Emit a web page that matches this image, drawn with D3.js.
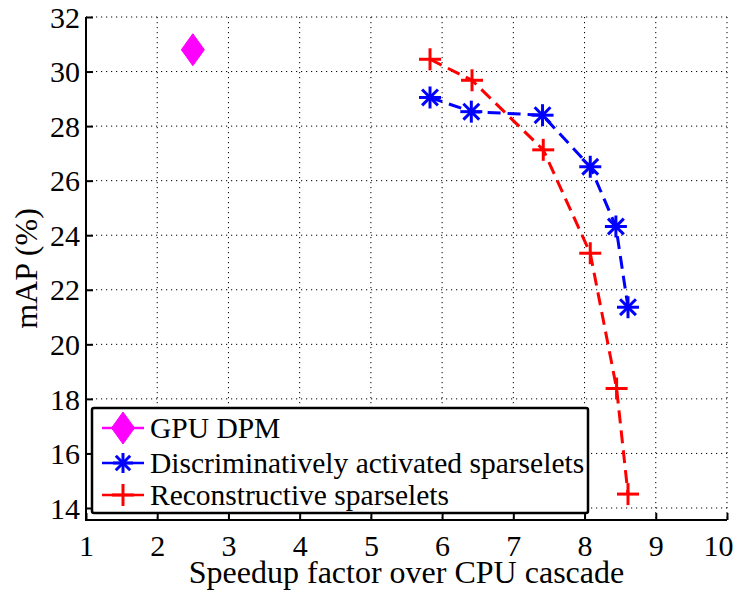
<!DOCTYPE html>
<html><head><meta charset="utf-8">
<script src="https://cdn.jsdelivr.net/npm/d3@7"></script>
<style>
html,body{margin:0;padding:0;background:#fff;}
svg{display:block;}
</style></head><body>
<svg id="c" width="746" height="591"></svg>
<script>
// Data
const gpuX = [2.5];
const gpuY = [30.8];
const discX = [5.83, 6.41, 7.41, 8.08, 8.44, 8.61];
const discY = [29.05, 28.53, 28.40, 26.51, 24.32, 21.36];
const recX = [5.83, 6.42, 7.42, 8.08, 8.45, 8.61];
const recY = [30.45, 29.68, 27.13, 23.34, 18.38, 14.51];
const xTicks = [1,2,3,4,5,6,7,8,9,10];
const yTicks = [14,16,18,20,22,24,26,28,30,32];
const legendLabels = ["GPU DPM", "Discriminatively activated sparselets", "Reconstructive sparselets"];
const xLabel = "Speedup factor over CPU cascade";
const yLabel = "mAP (%)";

const FONT = '"Liberation Serif"';
const svg = d3.select("#c");
const L = 86, R = 727, T = 17, B = 520;
const x = d3.scaleLinear().domain([1,10]).range([L,R]);
const y = d3.scaleLinear().domain([13.56,32]).range([B,T]);

// grid
const g = svg.append("g");
g.selectAll(".vg").data(xTicks.filter(d=>d>1)).enter().append("line")
  .attr("x1",d=>x(d)).attr("x2",d=>x(d)).attr("y1",T).attr("y2",B)
  .attr("stroke","#000").attr("stroke-width",1).attr("stroke-dasharray","1.2,3.8");
g.selectAll(".hg").data(yTicks).enter().append("line")
  .attr("x1",L).attr("x2",R).attr("y1",d=>y(d)).attr("y2",d=>y(d))
  .attr("stroke","#000").attr("stroke-width",1).attr("stroke-dasharray","1.2,3.8");

// axes
const xAxis = d3.axisBottom(x).tickValues(xTicks).tickFormat(d3.format("d")).tickSizeInner(-7).tickSizeOuter(0);
const yAxis = d3.axisLeft(y).tickValues(yTicks).tickFormat(d3.format("d")).tickSizeInner(-7).tickSizeOuter(0);
const gx = svg.append("g").attr("transform",`translate(0,${B})`).call(xAxis);
const gy = svg.append("g").attr("transform",`translate(${L},0)`).call(yAxis);
[gx,gy].forEach(a=>{
  a.attr("font-family",null).attr("font-size",null);
  a.select(".domain").attr("stroke","#000").attr("stroke-width",2);
  a.selectAll(".tick line").attr("stroke","#000").attr("stroke-width",2);
  a.selectAll(".tick text").style("font-family",FONT).style("font-size","30px").attr("fill","#000");
});
gx.selectAll(".tick text").attr("dy",null).attr("y",36)
  .attr("dx",d=>d===xTicks[xTicks.length-1]?-9:0);
gy.selectAll(".tick text").attr("x",-6).attr("dy","0.34em");
gx.select(".domain").attr("d",`M${L-1},0H${R}`);
gy.select(".domain").attr("d",`M0,${B+1}V${T}`);

// labels
svg.append("text").attr("x",(L+R)/2).attr("y",583).attr("text-anchor","middle")
  .style("font-family",FONT).style("font-size","32px").attr("fill","#000").text(xLabel);
svg.append("text").attr("transform",`translate(37,${(T+B)/2}) rotate(-90)`).attr("text-anchor","middle")
  .style("font-family",FONT).style("font-size","32px").attr("fill","#000").text(yLabel);

// marker drawers
function star(sel, cx, cy, r, color){
  const gg = sel.append("g").attr("stroke",color).attr("stroke-width",3).attr("fill","none");
  const d = r*0.72;
  gg.append("line").attr("x1",cx-r).attr("x2",cx+r).attr("y1",cy).attr("y2",cy);
  gg.append("line").attr("x1",cx).attr("x2",cx).attr("y1",cy-r).attr("y2",cy+r);
  gg.append("line").attr("x1",cx-d).attr("x2",cx+d).attr("y1",cy-d).attr("y2",cy+d);
  gg.append("line").attr("x1",cx-d).attr("x2",cx+d).attr("y1",cy+d).attr("y2",cy-d);
}
function plus(sel, cx, cy, r, color){
  const gg = sel.append("g").attr("stroke",color).attr("stroke-width",3).attr("fill","none");
  gg.append("line").attr("x1",cx-r).attr("x2",cx+r).attr("y1",cy).attr("y2",cy);
  gg.append("line").attr("x1",cx).attr("x2",cx).attr("y1",cy-r).attr("y2",cy+r);
}
function diamond(sel, cx, cy, w, h, color){
  sel.append("path").attr("d",`M${cx},${cy-h}L${cx+w},${cy}L${cx},${cy+h}L${cx-w},${cy}Z`).attr("fill",color).attr("stroke",color).attr("stroke-width",1);
}

const line = d3.line().x(d=>x(d[0])).y(d=>y(d[1]));
const discPts = discX.map((v,i)=>[v,discY[i]]);
const recPts = recX.map((v,i)=>[v,recY[i]]);
svg.append("path").attr("d",line(discPts)).attr("fill","none").attr("stroke","#0000ff").attr("stroke-width",3).attr("stroke-dasharray","13,7");
svg.append("path").attr("d",line(recPts)).attr("fill","none").attr("stroke","#ff0000").attr("stroke-width",3).attr("stroke-dasharray","13,7");
discPts.forEach(p=>star(svg,x(p[0]),y(p[1]),11,"#0000ff"));
recPts.forEach(p=>plus(svg,x(p[0]),y(p[1]),11,"#ff0000"));
gpuX.forEach((v,i)=>diamond(svg,x(v),y(gpuY[i]),11.5,16,"#ff00ff"));

// legend
const lg = svg.append("g");
lg.append("rect").attr("x",92).attr("y",408).attr("width",496).attr("height",105).attr("rx",2)
  .attr("fill","#fff").attr("stroke","#000").attr("stroke-width",2.5);
const rows = [428, 463, 495];
const colors = ["#ff00ff","#0000ff","#ff0000"];
rows.forEach((ry,i)=>{
  lg.append("line").attr("x1",102).attr("x2",144).attr("y1",ry).attr("y2",ry).attr("stroke",colors[i]).attr("stroke-width",2.5);
  if(i===0) diamond(lg,123,ry,11.5,16,colors[i]);
  if(i===1) star(lg,123,ry,10,colors[i]);
  if(i===2) plus(lg,123,ry,11,colors[i]);
  lg.append("text").attr("x",150).attr("y",ry).attr("dy","0.34em")
    .style("font-family",FONT).style("font-size","29.5px").attr("fill","#000").text(legendLabels[i]);
});
</script>
</body></html>
